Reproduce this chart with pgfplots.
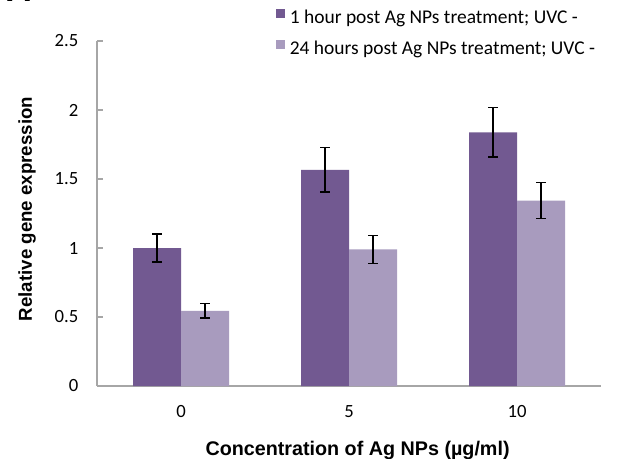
\documentclass[border=0pt]{standalone}
\usepackage{pgfplots}
\pgfplotsset{compat=1.18}
\usepackage{pgfplotstable}
\usepackage{fontspec}
\setmainfont{Carlito}
\newfontfamily\arialb{Liberation Sans}
\definecolor{darkp}{RGB}{114,89,145}
\definecolor{lightp}{RGB}{168,155,190}
\definecolor{axgray}{RGB}{166,166,166}

\pgfplotstableread{
x y err
0 1.000 0.100
1 1.567 0.160
2 1.838 0.180
}\oneh
\pgfplotstableread{
x y err
0 0.545 0.052
1 0.990 0.101
2 1.343 0.130
}\twentyfourh

\begin{document}
\begin{tikzpicture}[x=1pt,y=1pt]
\begin{axis}[
  at={(72.75pt,54pt)}, anchor=south west,
  scale only axis,
  width=378pt, height=258.75pt,
  xmin=-0.5, xmax=2.5,
  ymin=0, ymax=2.5,
  ybar=0pt, bar width=36pt,
  axis lines*=left,
  axis line style={axgray, line width=1.1pt},
  xtick={0,1,2}, xticklabels={0,5,10},
  xtick style={draw=none},
  ytick={0,0.5,1,1.5,2,2.5},
  tick align=inside,
  ytick style={axgray, line width=1.1pt},
  major tick length=4.5pt,
  /pgf/number format/assume math mode=true,
  tick label style={font=\fontsize{14pt}{16pt}\selectfont, text=black},
  yticklabel style={xshift=-10.5pt},
  xticklabel style={yshift=-11pt},
  xlabel={Concentration of Ag NPs (µg/ml)},
  ylabel={Relative gene expression},
  xlabel style={font=\arialb\bfseries\fontsize{14.8pt}{16pt}\selectfont,
    at={(axis description cs:0.517,-0.186)}, anchor=center},
  ylabel style={font=\arialb\bfseries\fontsize{14pt}{16pt}\selectfont,
    at={(axis description cs:-0.1389,0.513)}, anchor=center},
  legend style={at={(axis description cs:0.355,1.0203)}, anchor=west,
    draw=none, fill=none, inner sep=0pt,
    font=\fontsize{14.6pt}{16pt}\selectfont,
    row sep=9.5pt,
    nodes={inner sep=0pt, text height=10pt, text depth=3pt}},
  legend cell align=left,
  legend image code/.code={\fill[#1] (0pt,0.4pt) rectangle (6.75pt,7.15pt);},
  /tikz/every odd column/.append style={column sep=3.5pt},
  error bars/error bar style={black, line width=1.1pt},
  error bars/error mark options={rotate=90, black, line width=1.1pt, mark size=3.4pt},
]
\addplot[fill=darkp, draw=none, error bars/.cd, y dir=both, y explicit]
  table[x=x, y=y, y error=err] {\oneh};
\addlegendentry{1 hour post Ag NPs treatment; UVC -}
\addplot[fill=lightp, draw=none, error bars/.cd, y dir=both, y explicit]
  table[x=x, y=y, y error=err] {\twentyfourh};
\addlegendentry{24 hours post Ag NPs treatment; UVC -}
\end{axis}
\node[anchor=base west, inner sep=0pt, font=\arialb\bfseries\fontsize{25.5pt}{28pt}\selectfont] at (4.5pt,342pt) {A};
\pgfresetboundingbox
\useasboundingbox (0,0) rectangle (466.5pt,343.5pt);
\end{tikzpicture}
\end{document}
